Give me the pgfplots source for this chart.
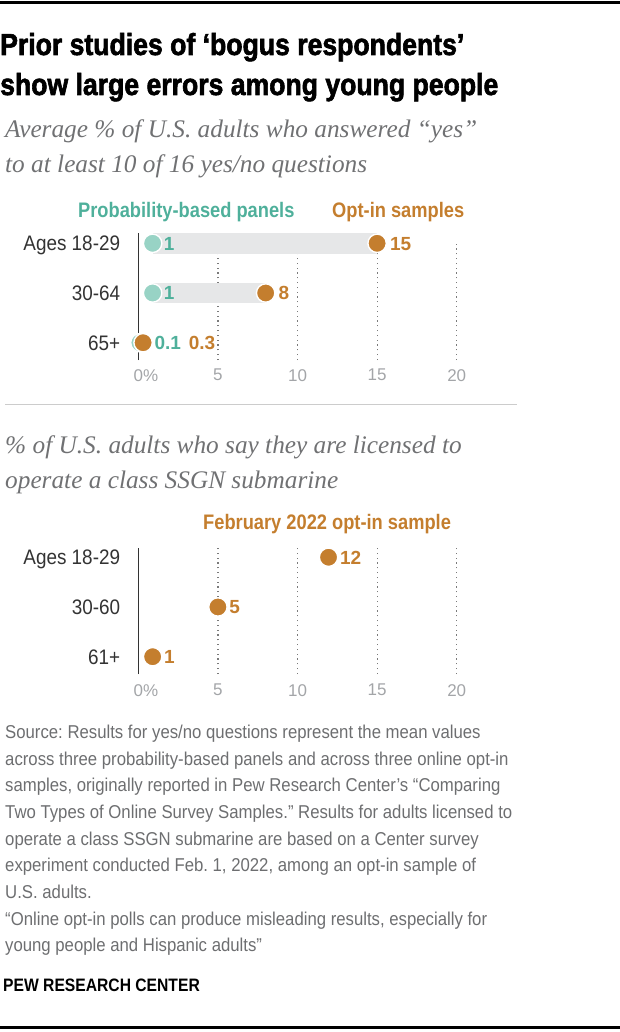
\documentclass[border=0pt]{standalone}
\usepackage{fontspec}
\usepackage{pgfplots}
\pgfplotsset{compat=1.18}
\setmainfont{Liberation Sans}
\newfontfamily\condbold[FakeStretch=0.87]{Liberation Sans}
\newfontfamily\heavy[FakeStretch=0.875,FakeBold=2]{Liberation Sans Bold}
\newfontfamily\body[FakeStretch=0.9]{Liberation Sans}
\newfontfamily\serifit{Liberation Serif}
\definecolor{tealtxt}{HTML}{4FB09B}
\definecolor{tealdot}{HTML}{98D3C5}
\definecolor{orng}{HTML}{C47E2E}
\definecolor{bargray}{HTML}{E6E7E8}
\definecolor{tickgray}{HTML}{A3A5A8}
\definecolor{subgray}{HTML}{707173}
\definecolor{footgray}{HTML}{6D6E70}
\definecolor{catgray}{HTML}{333333}
\definecolor{gridgray}{HTML}{7A7A7A}
\definecolor{sepgray}{HTML}{CCCCCC}

\pgfplotsset{
  dotchart/.style={
    scale only axis, clip=false,
    width=318.4pt,
    xmin=0, xmax=20,
    axis x line=bottom, axis y line=left,
    axis line style={draw=none},
    major tick length=0pt,
    xtick={0,5,10,15,20},
    xticklabels={0\rlap{\%},5,10,15,20},
    xticklabel style={font=\fontsize{17}{17}\selectfont, text=tickgray, anchor=north, inner sep=0pt},
    xticklabel shift=9pt,
    ytick={1,2,3},
    yticklabel style={font=\body\fontsize{21}{21}\selectfont, text=catgray, anchor=base east, inner sep=0pt, yshift=-7.5pt},
    yticklabel shift=18pt,
    xmajorgrids,
    grid style={gridgray, line width=1.2pt, dash pattern=on 1.2pt off 3.6pt},
  },
  dots/.style={only marks, mark=*, mark size=9.2pt,
    mark options={fill=#1, draw=white, line width=1.4pt}},
  vals/.style 2 args={nodes near coords, point meta=explicit symbolic,
    nodes near coords style={anchor=base west, inner sep=0pt, xshift=#2, yshift=-6.8pt,
      text=#1, font=\bfseries\fontsize{19}{19}\selectfont}},
}

\begin{document}
\frenchspacing
\begin{tikzpicture}[x=1pt,y=1pt]
\path[use as bounding box] (0,0) rectangle (620,-1032);
\fill[black] (0,-1) rectangle (620,-4.5);

\node[anchor=base west, inner sep=0] at (0,-55) {\heavy\fontsize{30.4}{30}\selectfont Prior studies of ‘bogus respondents’};
\node[anchor=base west, inner sep=0] at (0,-95) {\heavy\fontsize{30.4}{30}\selectfont show large errors among young people};

\node[anchor=base west, inner sep=0, text=subgray] at (5,-138) {\serifit\itshape\fontsize{25.3}{25}\selectfont Average \% of U.S. adults who answered “yes”};
\node[anchor=base west, inner sep=0, text=subgray] at (5,-173) {\serifit\itshape\fontsize{25.3}{25}\selectfont to at least 10 of 16 yes/no questions};

\node[anchor=base west, inner sep=0, text=tealtxt] at (78,-218) {\condbold\bfseries\fontsize{21}{21}\selectfont Probability-based panels};
\node[anchor=base west, inner sep=0, text=orng] at (332,-218) {\condbold\bfseries\fontsize{21}{21}\selectfont Opt-in samples};

\begin{axis}[dotchart, at={(138.3pt,-360pt)}, anchor=south west,
  height=116.7pt, ymin=0.652, ymax=3,
  yticklabels={65+,30-64,Ages 18-29}]
\draw[catgray, line width=1.1pt] (axis cs:0,0.652) -- (axis cs:0,3.213);
\addplot[bargray, line width=20.5pt, forget plot] coordinates {(0.9,3) (15,3)};
\addplot[bargray, line width=20.5pt, forget plot] coordinates {(0.9,2) (8,2)};
\addplot[dots=tealdot, vals={tealtxt}{10.5pt}] table[meta=label] {
x y label
0.9 3 1
0.9 2 1
};
\addplot[dots=tealdot, vals={tealtxt}{14pt}] table[meta=label] {
x y label
0.1 1 0.1
};
\addplot[dots=orng, vals={orng}{12.3pt}] table[meta=label] {
x y label
15 3 15
8 2 8
};
\addplot[dots=orng, vals={orng}{45pt}] table[meta=label] {
x y label
0.3 1 0.3
};
\end{axis}

\draw[sepgray, line width=1pt] (5,-404) -- (517,-404);

\node[anchor=base west, inner sep=0, text=subgray] at (5,-453) {\serifit\itshape\fontsize{25.3}{25}\selectfont \% of U.S. adults who say they are licensed to};
\node[anchor=base west, inner sep=0, text=subgray] at (5,-488) {\serifit\itshape\fontsize{25.3}{25}\selectfont operate a class SSGN submarine};

\node[anchor=base west, inner sep=0, text=orng] at (203,-529) {\condbold\bfseries\fontsize{21}{21}\selectfont February 2022 opt-in sample};

\begin{axis}[dotchart, at={(138.3pt,-674pt)}, anchor=south west,
  height=125.7pt, ymin=0.652, ymax=3.18,
  xticklabel shift=10pt,
  yticklabels={61+,30-60,Ages 18-29}]
\draw[catgray, line width=1.1pt] (axis cs:0,0.652) -- (axis cs:0,3.18);
\addplot[dots=orng, vals={orng}{10.8pt}] table[meta=label] {
x y label
11.95 3 12
5 2 5
0.9 1 1
};
\end{axis}

\begin{scope}[every node/.style={anchor=base west, inner sep=0, text=footgray, font=\body\fontsize{18.6}{18.6}\selectfont}]
\node at (5,-738.3) {Source: Results for yes/no questions represent the mean values};
\node at (5,-765) {across three probability-based panels and across three online opt-in};
\node at (5,-791.7) {samples, originally reported in Pew Research Center’s “Comparing};
\node at (5,-818.4) {Two Types of Online Survey Samples.” Results for adults licensed to};
\node at (5,-845.1) {operate a class SSGN submarine are based on a Center survey};
\node at (5,-871.8) {experiment conducted Feb. 1, 2022, among an opt-in sample of};
\node at (5,-898.5) {U.S. adults.};
\node at (5,-925.2) {“Online opt-in polls can produce misleading results, especially for};
\node at (5,-951.9) {young people and Hispanic adults”};
\end{scope}
\node[anchor=base west, inner sep=0] at (3,-991.7) {\condbold\bfseries\fontsize{18}{18}\selectfont PEW RESEARCH CENTER};
\fill[black] (0,-1025.5) rectangle (620,-1028.5);
\end{tikzpicture}
\end{document}
